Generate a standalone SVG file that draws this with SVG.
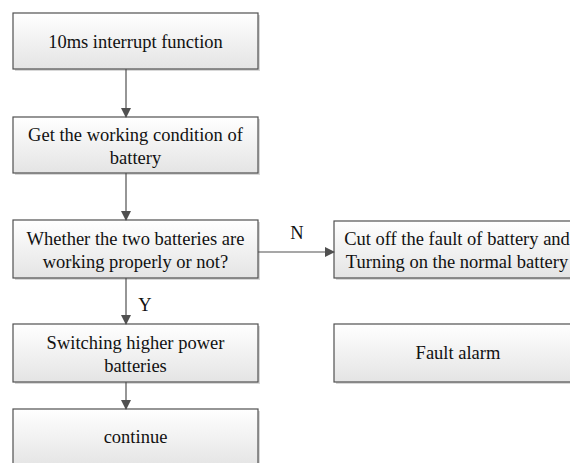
<svg xmlns="http://www.w3.org/2000/svg" width="570" height="463" viewBox="0 0 570 463">
<defs>
<linearGradient id="g" x1="0" y1="0" x2="0" y2="1">
<stop offset="0" stop-color="#ffffff"/>
<stop offset="1" stop-color="#e4e4e4"/>
</linearGradient>
<marker id="ah" markerWidth="10" markerHeight="10" refX="9" refY="5" orient="auto" markerUnits="userSpaceOnUse">
<path d="M0,0 L10,5 L0,10 Z" fill="#505050"/>
</marker>
<style>
.box{fill:url(#g);stroke:#505050;stroke-width:1.2}
.sh{fill:#d8d8d8}
.t{font-family:"Liberation Serif", "Times New Roman", serif;font-size:18.5px;fill:#111;text-anchor:middle}
.c{stroke:#505050;stroke-width:1.2;fill:none;marker-end:url(#ah)}
</style>
</defs>
<rect width="570" height="463" fill="#fff"/>
<g id="n1"><rect class="sh" x="15" y="15" width="245" height="56"/><rect class="box" x="13" y="13" width="245" height="56"/><text class="t" x="135.5" y="48">10ms interrupt function</text></g>
<g id="n2"><rect class="sh" x="15" y="119" width="245" height="56"/><rect class="box" x="13" y="117" width="245" height="56"/><text class="t" x="135.5" y="141">Get the working condition of</text><text class="t" x="135.5" y="164">battery</text></g>
<g id="n3"><rect class="sh" x="15" y="222" width="245" height="58"/><rect class="box" x="13" y="220" width="245" height="58"/><text class="t" x="135.5" y="245">Whether the two batteries are</text><text class="t" x="135.5" y="268">working properly or not?</text></g>
<g id="n4"><rect class="sh" x="15" y="326" width="245" height="58"/><rect class="box" x="13" y="324" width="245" height="58"/><text class="t" x="135.5" y="349">Switching higher power</text><text class="t" x="135.5" y="372">batteries</text></g>
<g id="n5"><rect class="sh" x="15" y="411" width="245" height="58"/><rect class="box" x="13" y="409" width="245" height="58"/><text class="t" x="135.5" y="443">continue</text></g>
<g id="n6"><rect class="sh" x="336" y="223" width="245" height="57"/><rect class="box" x="334" y="221" width="245" height="57"/><text class="t" x="457" y="245">Cut off the fault of battery and</text><text class="t" x="457" y="268">Turning on the normal battery</text></g>
<g id="n7"><rect class="sh" x="336" y="326" width="245" height="58"/><rect class="box" x="334" y="324" width="245" height="58"/><text class="t" x="458" y="359">Fault alarm</text></g>
<g id="connectors">
<line class="c" x1="126" y1="69" x2="126" y2="117"/>
<line class="c" x1="126" y1="173" x2="126" y2="220"/>
<line class="c" x1="126" y1="278" x2="126" y2="324"/>
<line class="c" x1="126" y1="382" x2="126" y2="409"/>
<line class="c" x1="258" y1="252" x2="334" y2="252"/>
<text class="t" x="297" y="239">N</text>
<text class="t" x="145" y="311">Y</text>
</g>
</svg>
